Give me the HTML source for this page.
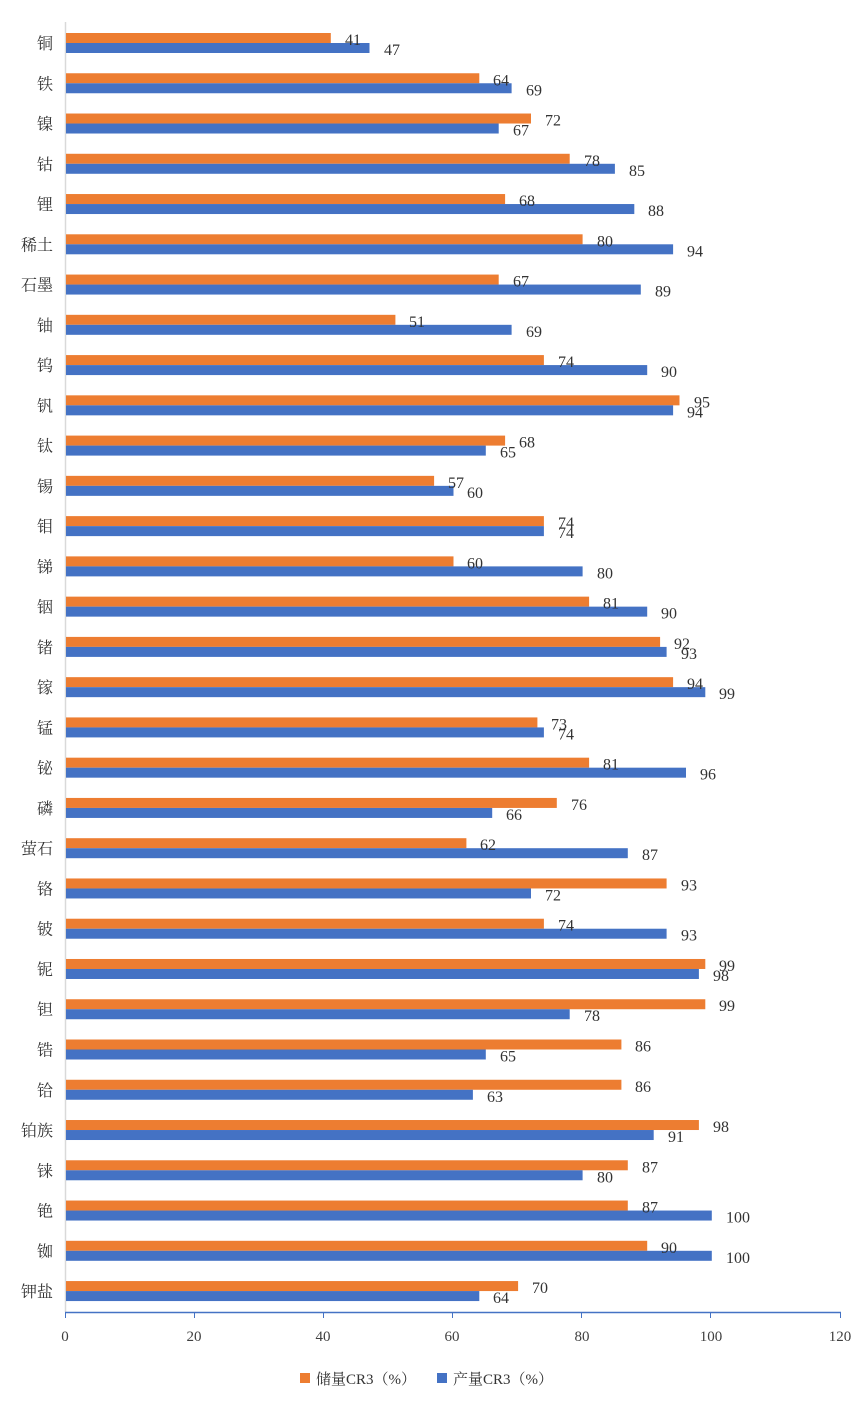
<!DOCTYPE html>
<html><head><meta charset="utf-8"><style>
body{margin:0;background:#fff}
svg{display:block}
.c{font-family:"Liberation Serif","Noto Serif CJK SC",serif;font-size:16px;fill:#333;text-anchor:end}
.v{font-family:"Liberation Serif","Noto Serif CJK SC",serif;font-size:16px;fill:#333}
.t{font-family:"Liberation Serif",serif;font-size:15px;fill:#404040;text-anchor:middle}
.o{fill:#ED7D31}.b{fill:#4472C4}
</style></head><body>
<svg width="866" height="1409" xmlns="http://www.w3.org/2000/svg">
<line x1="65.5" y1="22" x2="65.5" y2="1312" stroke="#d9d9d9" stroke-width="1.5"/>
<g transform="translate(0,43)"><text class="c" x="53" y="6">铜</text><rect class="o" x="66" y="-10" width="264.8" height="10"/><rect class="b" x="66" y="0" width="303.5" height="10"/><text class="v" x="345" y="2">41</text><text class="v" x="384" y="12">47</text></g>
<g transform="translate(0,83.26)"><text class="c" x="53" y="6">铁</text><rect class="o" x="66" y="-10" width="413.3" height="10"/><rect class="b" x="66" y="0" width="445.6" height="10"/><text class="v" x="493" y="2">64</text><text class="v" x="526" y="12">69</text></g>
<g transform="translate(0,123.52)"><text class="c" x="53" y="6">镍</text><rect class="o" x="66" y="-10" width="465" height="10"/><rect class="b" x="66" y="0" width="432.7" height="10"/><text class="v" x="545" y="2">72</text><text class="v" x="513" y="12">67</text></g>
<g transform="translate(0,163.78)"><text class="c" x="53" y="6">钴</text><rect class="o" x="66" y="-10" width="503.7" height="10"/><rect class="b" x="66" y="0" width="548.9" height="10"/><text class="v" x="584" y="2">78</text><text class="v" x="629" y="12">85</text></g>
<g transform="translate(0,204.04)"><text class="c" x="53" y="6">锂</text><rect class="o" x="66" y="-10" width="439.1" height="10"/><rect class="b" x="66" y="0" width="568.3" height="10"/><text class="v" x="519" y="2">68</text><text class="v" x="648" y="12">88</text></g>
<g transform="translate(0,244.3)"><text class="c" x="53" y="6">稀土</text><rect class="o" x="66" y="-10" width="516.6" height="10"/><rect class="b" x="66" y="0" width="607.1" height="10"/><text class="v" x="597" y="2">80</text><text class="v" x="687" y="12">94</text></g>
<g transform="translate(0,284.56)"><text class="c" x="53" y="6">石墨</text><rect class="o" x="66" y="-10" width="432.7" height="10"/><rect class="b" x="66" y="0" width="574.8" height="10"/><text class="v" x="513" y="2">67</text><text class="v" x="655" y="12">89</text></g>
<g transform="translate(0,324.82)"><text class="c" x="53" y="6">铀</text><rect class="o" x="66" y="-10" width="329.4" height="10"/><rect class="b" x="66" y="0" width="445.6" height="10"/><text class="v" x="409" y="2">51</text><text class="v" x="526" y="12">69</text></g>
<g transform="translate(0,365.08)"><text class="c" x="53" y="6">钨</text><rect class="o" x="66" y="-10" width="477.9" height="10"/><rect class="b" x="66" y="0" width="581.2" height="10"/><text class="v" x="558" y="2">74</text><text class="v" x="661" y="12">90</text></g>
<g transform="translate(0,405.34)"><text class="c" x="53" y="6">钒</text><rect class="o" x="66" y="-10" width="613.5" height="10"/><rect class="b" x="66" y="0" width="607.1" height="10"/><text class="v" x="694" y="2">95</text><text class="v" x="687" y="12">94</text></g>
<g transform="translate(0,445.6)"><text class="c" x="53" y="6">钛</text><rect class="o" x="66" y="-10" width="439.1" height="10"/><rect class="b" x="66" y="0" width="419.8" height="10"/><text class="v" x="519" y="2">68</text><text class="v" x="500" y="12">65</text></g>
<g transform="translate(0,485.86)"><text class="c" x="53" y="6">锡</text><rect class="o" x="66" y="-10" width="368.1" height="10"/><rect class="b" x="66" y="0" width="387.5" height="10"/><text class="v" x="448" y="2">57</text><text class="v" x="467" y="12">60</text></g>
<g transform="translate(0,526.12)"><text class="c" x="53" y="6">钼</text><rect class="o" x="66" y="-10" width="477.9" height="10"/><rect class="b" x="66" y="0" width="477.9" height="10"/><text class="v" x="558" y="2">74</text><text class="v" x="558" y="12">74</text></g>
<g transform="translate(0,566.38)"><text class="c" x="53" y="6">锑</text><rect class="o" x="66" y="-10" width="387.5" height="10"/><rect class="b" x="66" y="0" width="516.6" height="10"/><text class="v" x="467" y="2">60</text><text class="v" x="597" y="12">80</text></g>
<g transform="translate(0,606.64)"><text class="c" x="53" y="6">铟</text><rect class="o" x="66" y="-10" width="523.1" height="10"/><rect class="b" x="66" y="0" width="581.2" height="10"/><text class="v" x="603" y="2">81</text><text class="v" x="661" y="12">90</text></g>
<g transform="translate(0,646.9)"><text class="c" x="53" y="6">锗</text><rect class="o" x="66" y="-10" width="594.1" height="10"/><rect class="b" x="66" y="0" width="600.6" height="10"/><text class="v" x="674" y="2">92</text><text class="v" x="681" y="12">93</text></g>
<g transform="translate(0,687.16)"><text class="c" x="53" y="6">镓</text><rect class="o" x="66" y="-10" width="607.1" height="10"/><rect class="b" x="66" y="0" width="639.3" height="10"/><text class="v" x="687" y="2">94</text><text class="v" x="719" y="12">99</text></g>
<g transform="translate(0,727.42)"><text class="c" x="53" y="6">锰</text><rect class="o" x="66" y="-10" width="471.4" height="10"/><rect class="b" x="66" y="0" width="477.9" height="10"/><text class="v" x="551" y="2">73</text><text class="v" x="558" y="12">74</text></g>
<g transform="translate(0,767.68)"><text class="c" x="53" y="6">铋</text><rect class="o" x="66" y="-10" width="523.1" height="10"/><rect class="b" x="66" y="0" width="620" height="10"/><text class="v" x="603" y="2">81</text><text class="v" x="700" y="12">96</text></g>
<g transform="translate(0,807.94)"><text class="c" x="53" y="6">磷</text><rect class="o" x="66" y="-10" width="490.8" height="10"/><rect class="b" x="66" y="0" width="426.2" height="10"/><text class="v" x="571" y="2">76</text><text class="v" x="506" y="12">66</text></g>
<g transform="translate(0,848.2)"><text class="c" x="53" y="6">萤石</text><rect class="o" x="66" y="-10" width="400.4" height="10"/><rect class="b" x="66" y="0" width="561.8" height="10"/><text class="v" x="480" y="2">62</text><text class="v" x="642" y="12">87</text></g>
<g transform="translate(0,888.46)"><text class="c" x="53" y="6">铬</text><rect class="o" x="66" y="-10" width="600.6" height="10"/><rect class="b" x="66" y="0" width="465" height="10"/><text class="v" x="681" y="2">93</text><text class="v" x="545" y="12">72</text></g>
<g transform="translate(0,928.72)"><text class="c" x="53" y="6">铍</text><rect class="o" x="66" y="-10" width="477.9" height="10"/><rect class="b" x="66" y="0" width="600.6" height="10"/><text class="v" x="558" y="2">74</text><text class="v" x="681" y="12">93</text></g>
<g transform="translate(0,968.98)"><text class="c" x="53" y="6">铌</text><rect class="o" x="66" y="-10" width="639.3" height="10"/><rect class="b" x="66" y="0" width="632.9" height="10"/><text class="v" x="719" y="2">99</text><text class="v" x="713" y="12">98</text></g>
<g transform="translate(0,1009.24)"><text class="c" x="53" y="6">钽</text><rect class="o" x="66" y="-10" width="639.3" height="10"/><rect class="b" x="66" y="0" width="503.7" height="10"/><text class="v" x="719" y="2">99</text><text class="v" x="584" y="12">78</text></g>
<g transform="translate(0,1049.5)"><text class="c" x="53" y="6">锆</text><rect class="o" x="66" y="-10" width="555.4" height="10"/><rect class="b" x="66" y="0" width="419.8" height="10"/><text class="v" x="635" y="2">86</text><text class="v" x="500" y="12">65</text></g>
<g transform="translate(0,1089.76)"><text class="c" x="53" y="6">铪</text><rect class="o" x="66" y="-10" width="555.4" height="10"/><rect class="b" x="66" y="0" width="406.9" height="10"/><text class="v" x="635" y="2">86</text><text class="v" x="487" y="12">63</text></g>
<g transform="translate(0,1130.02)"><text class="c" x="53" y="6">铂族</text><rect class="o" x="66" y="-10" width="632.9" height="10"/><rect class="b" x="66" y="0" width="587.7" height="10"/><text class="v" x="713" y="2">98</text><text class="v" x="668" y="12">91</text></g>
<g transform="translate(0,1170.28)"><text class="c" x="53" y="6">铼</text><rect class="o" x="66" y="-10" width="561.8" height="10"/><rect class="b" x="66" y="0" width="516.6" height="10"/><text class="v" x="642" y="2">87</text><text class="v" x="597" y="12">80</text></g>
<g transform="translate(0,1210.54)"><text class="c" x="53" y="6">铯</text><rect class="o" x="66" y="-10" width="561.8" height="10"/><rect class="b" x="66" y="0" width="645.8" height="10"/><text class="v" x="642" y="2">87</text><text class="v" x="726" y="12">100</text></g>
<g transform="translate(0,1250.8)"><text class="c" x="53" y="6">铷</text><rect class="o" x="66" y="-10" width="581.2" height="10"/><rect class="b" x="66" y="0" width="645.8" height="10"/><text class="v" x="661" y="2">90</text><text class="v" x="726" y="12">100</text></g>
<g transform="translate(0,1291.06)"><text class="c" x="53" y="6">钾盐</text><rect class="o" x="66" y="-10" width="452.1" height="10"/><rect class="b" x="66" y="0" width="413.3" height="10"/><text class="v" x="532" y="2">70</text><text class="v" x="493" y="12">64</text></g>
<line x1="65" y1="1312.5" x2="841" y2="1312.5" stroke="#4472C4" stroke-width="1.5"/>
<g stroke="#4472C4" stroke-width="1">
<line x1="65.5" y1="1312" x2="65.5" y2="1318"/><line x1="194.5" y1="1312" x2="194.5" y2="1318"/><line x1="323.5" y1="1312" x2="323.5" y2="1318"/><line x1="452.5" y1="1312" x2="452.5" y2="1318"/><line x1="581.5" y1="1312" x2="581.5" y2="1318"/><line x1="710.5" y1="1312" x2="710.5" y2="1318"/><line x1="840.5" y1="1312" x2="840.5" y2="1318"/>
</g>
<text class="t" x="65" y="1341">0</text><text class="t" x="194" y="1341">20</text><text class="t" x="323" y="1341">40</text><text class="t" x="452" y="1341">60</text><text class="t" x="582" y="1341">80</text><text class="t" x="711" y="1341">100</text><text class="t" x="840" y="1341">120</text>
<rect class="o" x="300" y="1373" width="10" height="10"/>
<text class="v" x="316" y="1384" style="font-size:15px">储量CR3（%）</text>
<rect class="b" x="437" y="1373" width="10" height="10"/>
<text class="v" x="453" y="1384" style="font-size:15px">产量CR3（%）</text>
</svg>
</body></html>
